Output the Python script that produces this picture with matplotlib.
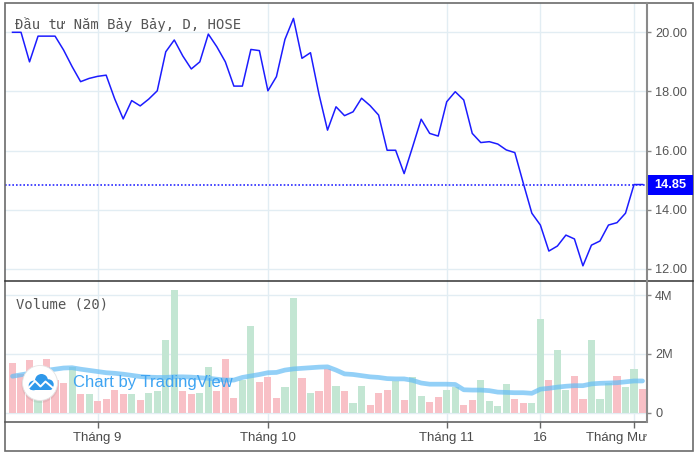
import matplotlib
matplotlib.use("Agg")
import matplotlib.pyplot as plt
import numpy as np
from matplotlib.patches import Circle, Rectangle, FancyBboxPatch

# daily close, Đầu tư Năm Bảy Bảy (NBB), HOSE
price = [20.0, 20.0, 19.0, 19.87, 19.87, 19.87, 19.4, 18.84, 18.33, 18.44,
         18.51, 18.55, 17.75, 17.07, 17.69, 17.51, 17.74, 18.02, 19.34, 19.74,
         19.2, 18.76, 19.0, 19.94, 19.51, 19.0, 18.18, 18.18, 19.42, 19.38,
         18.02, 18.5, 19.76, 20.47, 19.12, 19.31, 17.9, 16.69, 17.48, 17.18,
         17.31, 17.77, 17.52, 17.2, 16.01, 16.01, 15.22, 16.13, 17.06, 16.58,
         16.49, 17.65, 17.99, 17.71, 16.58, 16.27, 16.3, 16.22, 16.02, 15.93,
         14.89, 13.88, 13.48, 12.6, 12.77, 13.14, 13.01, 12.1, 12.8, 12.94,
         13.48, 13.56, 13.88, 14.85, 14.85]

# volume in millions, 1 = up day (green), 0 = down day (red)
volume = [1.70, 1.30, 1.80, 0.60, 1.83, 1.10, 1.02, 1.56, 0.63, 0.63,
          0.40, 0.47, 0.77, 0.63, 0.63, 0.43, 0.67, 0.75, 2.47, 4.17,
          0.74, 0.63, 0.67, 1.56, 0.74, 1.82, 0.51, 1.11, 2.95, 1.04,
          1.20, 0.51, 0.87, 3.91, 1.17, 0.68, 0.73, 1.49, 0.92, 0.73,
          0.32, 0.92, 0.27, 0.68, 0.76, 1.08, 0.43, 1.20, 0.56, 0.36,
          0.52, 0.76, 0.87, 0.27, 0.43, 1.12, 0.40, 0.23, 0.97, 0.48,
          0.32, 0.32, 3.19, 1.12, 2.13, 0.76, 1.25, 0.48, 2.46, 0.48,
          1.00, 1.25, 0.88, 1.49, 0.81]
up = [0, 0, 0, 1, 0, 0, 0, 1, 0, 1,
      0, 0, 0, 0, 1, 0, 1, 1, 1, 1,
      0, 0, 1, 1, 0, 0, 0, 1, 1, 0,
      0, 0, 1, 1, 0, 1, 0, 0, 1, 0,
      1, 1, 0, 0, 0, 1, 0, 1, 1, 0,
      0, 1, 1, 0, 0, 1, 1, 1, 1, 0,
      0, 1, 1, 0, 1, 1, 0, 0, 1, 1,
      1, 0, 1, 1, 0]
# 20-day volume moving average as drawn (millions)
volume_ma = [1.24, 1.29, 1.34, 1.39, 1.44, 1.48, 1.52, 1.53, 1.48, 1.44,
             1.40, 1.36, 1.34, 1.31, 1.27, 1.23, 1.21, 1.20, 1.20, 1.22,
             1.22, 1.21, 1.19, 1.17, 1.14, 1.11, 1.11, 1.20, 1.25, 1.30,
             1.36, 1.37, 1.45, 1.49, 1.51, 1.53, 1.55, 1.56, 1.45, 1.32,
             1.30, 1.26, 1.22, 1.20, 1.16, 1.15, 1.15, 1.10, 1.01, 0.97,
             0.97, 0.97, 0.96, 0.78, 0.77, 0.77, 0.75, 0.70, 0.69, 0.68,
             0.68, 0.66, 0.80, 0.83, 0.87, 0.90, 0.92, 0.92, 0.98, 1.00,
             1.01, 1.02, 1.05, 1.08, 1.08]

date_tick_idx = [10, 30, 51, 62, 73]
date_tick_labels = ["Tháng 9", "Tháng 10", "Tháng 11", "16", "Tháng Mười Hai"]
price_ticks = [12, 14, 16, 18, 20]
volume_ticks = [0, 2, 4]
volume_tick_labels = ["0", "2M", "4M"]
title = "Đầu tư Năm Bảy Bảy, D, HOSE"

W, H = 700, 457
GRID = "#e2edf3"
TXT = "#555555"
MONO = ["DejaVu Sans Mono", "Liberation Mono", "Noto Sans"]


def rect(left, top, right, bottom):
    return [left / W, 1 - bottom / H, (right - left) / W, (bottom - top) / H]


AX_L, AX_R = 5, 646.7
TOP, SPLIT, VOL_B, BOTTOM = 3, 281, 421.7, 451

fig = plt.figure(figsize=(W / 100, H / 100), dpi=100)
ax_p = fig.add_axes(rect(AX_L, TOP, AX_R, SPLIT))
ax_v = fig.add_axes(rect(AX_L, SPLIT, AX_R, VOL_B), sharex=ax_p)
ax_t = fig.add_axes(rect(AX_L, VOL_B, AX_R, BOTTOM), sharex=ax_p)

x = np.arange(len(price))

# price pane
ax_p.plot(x, price, color="#1c1cff", lw=1.1, zorder=3)
ax_p.axhline(price[-1], color="#2a2aff", lw=1.2, ls=(0, (1, 1.2)), zorder=2)
ax_p.set_xlim(-0.881, 74.49)
ax_p.set_ylim(11.587, 20.991)
ax_p.set_yticks(price_ticks)
ax_p.set_yticklabels([f"{v:.2f}" for v in price_ticks])
ax_p.set_xticks(date_tick_idx)

# volume pane
bar_colors = ["#c3e6d3" if u else "#f8c0c6" for u in up]
ax_v.bar(x, volume, width=0.84, color=bar_colors, zorder=2)
ax_v.plot(x, volume_ma, color="#66bdf5", alpha=0.7, lw=3.4,
          solid_capstyle="round", zorder=3)
ax_v.set_ylim(-0.306, 4.48)
ax_v.set_yticks(volume_ticks)
ax_v.set_yticklabels(volume_tick_labels)

for ax in (ax_p, ax_v):
    for s in ax.spines.values():
        s.set_visible(False)
    ax.yaxis.tick_right()
    ax.grid(True, color=GRID, lw=1)
    ax.set_axisbelow(True)
    ax.tick_params(axis="y", direction="out", length=3, width=1, color="#888888",
                   labelsize=9.2, labelcolor=TXT, pad=3)
    for lab in ax.get_yticklabels():
        lab.set_family("Liberation Sans")
ax_p.tick_params(axis="x", length=0, labelbottom=False)
ax_v.tick_params(axis="x", direction="out", length=4, width=1, color="#666666",
                 labelbottom=False)

# date labels, clipped at the price scale like the original
ax_t.set_ylim(0, 1)
ax_t.axis("off")
for i, lab in zip(date_tick_idx, date_tick_labels):
    ax_t.text(i, 0.43, lab, ha="center", va="center", fontsize=9.5,
              color="#4a4a4a", family="Liberation Sans", clip_on=True)

# overlay for frame, labels and watermark
ax_o = fig.add_axes([0, 0, 1, 1], zorder=10)
ax_o.set_xlim(0, W)
ax_o.set_ylim(H, 0)
ax_o.axis("off")
ax_o.add_patch(Rectangle((5, 3), 688, 448, fill=False, ec="#6b6b6b", lw=1.2))
ax_o.plot([5, 693], [SPLIT, SPLIT], color="#333333", lw=1.1)
ax_o.plot([5, AX_R], [VOL_B, VOL_B], color="#555555", lw=1.1)
ax_o.plot([AX_R, AX_R], [3, VOL_B], color="#8a8a8a", lw=1.5)

ax_o.add_patch(Rectangle((AX_R, 175), 693 - AX_R, 20, fc="#0000ff", ec="none"))
ax_o.text(670, 185.5, f"{price[-1]:.2f}", color="white", fontsize=9.2,
          fontweight="bold", ha="center", va="center", family="Liberation Sans")

ax_o.text(15, 25, title, family=MONO, fontsize=10, color=TXT,
          va="center", ha="left")
ax_o.text(16, 304, "Volume (20)", family=MONO, fontsize=10,
          color=TXT, va="center", ha="left")

# TradingView watermark
ax_o.add_patch(Circle((40, 384.5), 18.5, fc="black", alpha=0.06, ec="none"))
ax_o.add_patch(Circle((40, 383), 17.5, fc="white", ec="#e4e4e4", lw=0.6))
cloud = "#2f98ea"
for cx, cy, r in [(33.5, 385.5, 4.8), (41.5, 380.5, 6.5), (48.5, 384.5, 5.2)]:
    ax_o.add_patch(Circle((cx, cy), r, fc=cloud, ec="none"))
ax_o.add_patch(FancyBboxPatch((29, 383), 24, 7, boxstyle="round,pad=0,rounding_size=3.5",
                              fc=cloud, ec="none"))
ax_o.plot([29, 35, 40.5, 45.5, 53], [387.5, 381, 386.5, 381.5, 388],
          color="white", lw=1.4, solid_capstyle="round")
ax_o.text(73, 383, "Chart by TradingView", color="#3fa4f2", fontsize=12,
          va="center", ha="left", family="Liberation Sans")

fig.savefig("out.png", dpi=100)
